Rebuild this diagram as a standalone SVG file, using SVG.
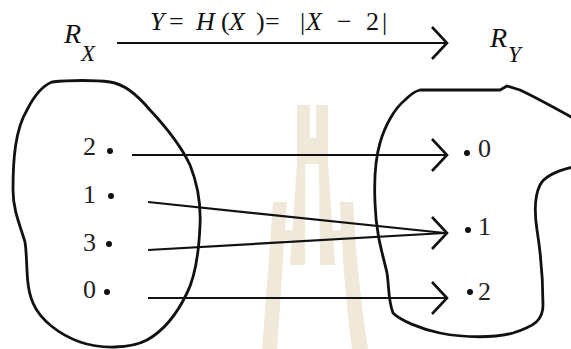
<svg xmlns="http://www.w3.org/2000/svg" width="571" height="349" viewBox="0 0 571 349">
<style>
.wm{fill:#f0e8d8;stroke:none}
.blob{fill:none;stroke:#111;stroke-width:2.8;stroke-linejoin:round;stroke-linecap:round}
.ln{fill:none;stroke:#111;stroke-width:2.2;stroke-linecap:butt}
.chev{fill:none;stroke:#111;stroke-width:2.6;stroke-linejoin:miter;stroke-linecap:butt}
.num{font-family:"Liberation Serif","Times New Roman",serif;font-size:26px;fill:#222}
.it{font-family:"Liberation Serif","Times New Roman",serif;font-style:italic;fill:#111}
.up{font-family:"Liberation Serif","Times New Roman",serif;fill:#111}
.dot{fill:#111}
</style>
<defs>
<path id="chv" d="M-15,-16 L0,0 L-15,16"/>
</defs>
<rect width="571" height="349" fill="#fff"/>
<g id="watermark">
<rect class="wm" x="297" y="105" width="13" height="35"/>
<rect class="wm" x="316" y="105" width="12" height="35"/>
<rect class="wm" x="297" y="138" width="31" height="26"/>
<polygon class="wm" points="297,163 305,163 305,265 290,265"/>
<polygon class="wm" points="319,163 328,163 335,265 320,265"/>
<path class="wm" d="M273,202 L287,202 L285,230 L292,230 L292,240 L284,240 C282,280 279,320 277,349 L262,349 C265,310 269,260 273,202 Z"/>
<path class="wm" d="M340,202 L353,202 C356,260 362,310 368,349 L352,349 C348,320 344,280 342,240 L333,240 L333,230 L341,230 Z"/>
</g>
<g id="set-rx">
<path class="blob" d="M52,82 C70,80 95,80 110,82 C125,84 140,98 150,110 C165,126 182,148 190,165 C198,185 201,205 200,225 C199,250 196,275 187,293 C178,312 165,330 147,340 C130,349 100,349 80,342 C60,335 40,320 33,303 C25,285 28,262 25,242 C20,225 13,210 13,190 C13,160 15,130 27,110 C33,98 42,86 52,82 Z"/>
</g>
<g id="set-ry">
<path class="blob" d="M420,90 L500,90 L507,86 L520,90 C535,97 555,108 573,118 L573,167 C560,170 545,175 540,185 C535,195 534,210 537,230 C541,255 543,285 543,305 C543,320 535,326 513,333 C495,338 465,338 440,333 C420,329 400,320 393,313 C388,300 389,285 387,273 C383,255 376,235 375,203 C374,180 375,160 380,143 C385,125 395,108 405,100 C410,95 415,91 420,90 Z"/>
</g>
<g id="rx-label">
<text class="it" x="64" y="43" font-size="28">R</text>
<text class="it" x="81" y="61" font-size="23">X</text>
</g>
<g id="ry-label">
<text class="it" x="490" y="47" font-size="28">R</text>
<text class="it" x="508" y="62" font-size="23">Y</text>
</g>
<g id="x2"><text class="num" x="83" y="155">2</text><circle class="dot" cx="110" cy="151" r="3"/></g>
<g id="x1"><text class="num" x="83" y="203">1</text><circle class="dot" cx="111" cy="196" r="3"/></g>
<g id="x3"><text class="num" x="83" y="251">3</text><circle class="dot" cx="109" cy="244" r="3"/></g>
<g id="x0"><text class="num" x="83" y="298">0</text><circle class="dot" cx="107" cy="292" r="3"/></g>
<g id="y0"><circle class="dot" cx="467" cy="153" r="3"/><text class="num" x="478" y="157">0</text></g>
<g id="y1"><circle class="dot" cx="468" cy="230" r="3"/><text class="num" x="478" y="235">1</text></g>
<g id="y2"><circle class="dot" cx="470" cy="292" r="3"/><text class="num" x="478" y="300">2</text></g>
<g id="connectors">
<line class="ln" x1="117" y1="43" x2="446" y2="43"/>
<use href="#chv" class="chev" x="447" y="43"/>
<text font-size="26" y="30"><tspan class="it" x="150">Y</tspan><tspan class="up" x="169">=</tspan><tspan class="it" x="196">H</tspan><tspan class="up" x="221">(</tspan><tspan class="it" x="229">X</tspan><tspan class="up" x="256">)</tspan><tspan class="up" x="265">=</tspan><tspan class="up" x="300">|</tspan><tspan class="it" x="306">X</tspan><tspan class="up" x="337">−</tspan><tspan class="up" x="366">2</tspan><tspan class="up" x="382">|</tspan></text>
<line class="ln" x1="132" y1="155" x2="446" y2="155"/>
<use href="#chv" class="chev" x="447" y="155"/>
<line class="ln" x1="148" y1="202" x2="445" y2="233"/>
<line class="ln" x1="148" y1="250" x2="445" y2="233"/>
<use href="#chv" class="chev" x="447" y="233"/>
<line class="ln" x1="148" y1="298" x2="446" y2="298"/>
<use href="#chv" class="chev" x="447" y="298"/>
</g>
</svg>
